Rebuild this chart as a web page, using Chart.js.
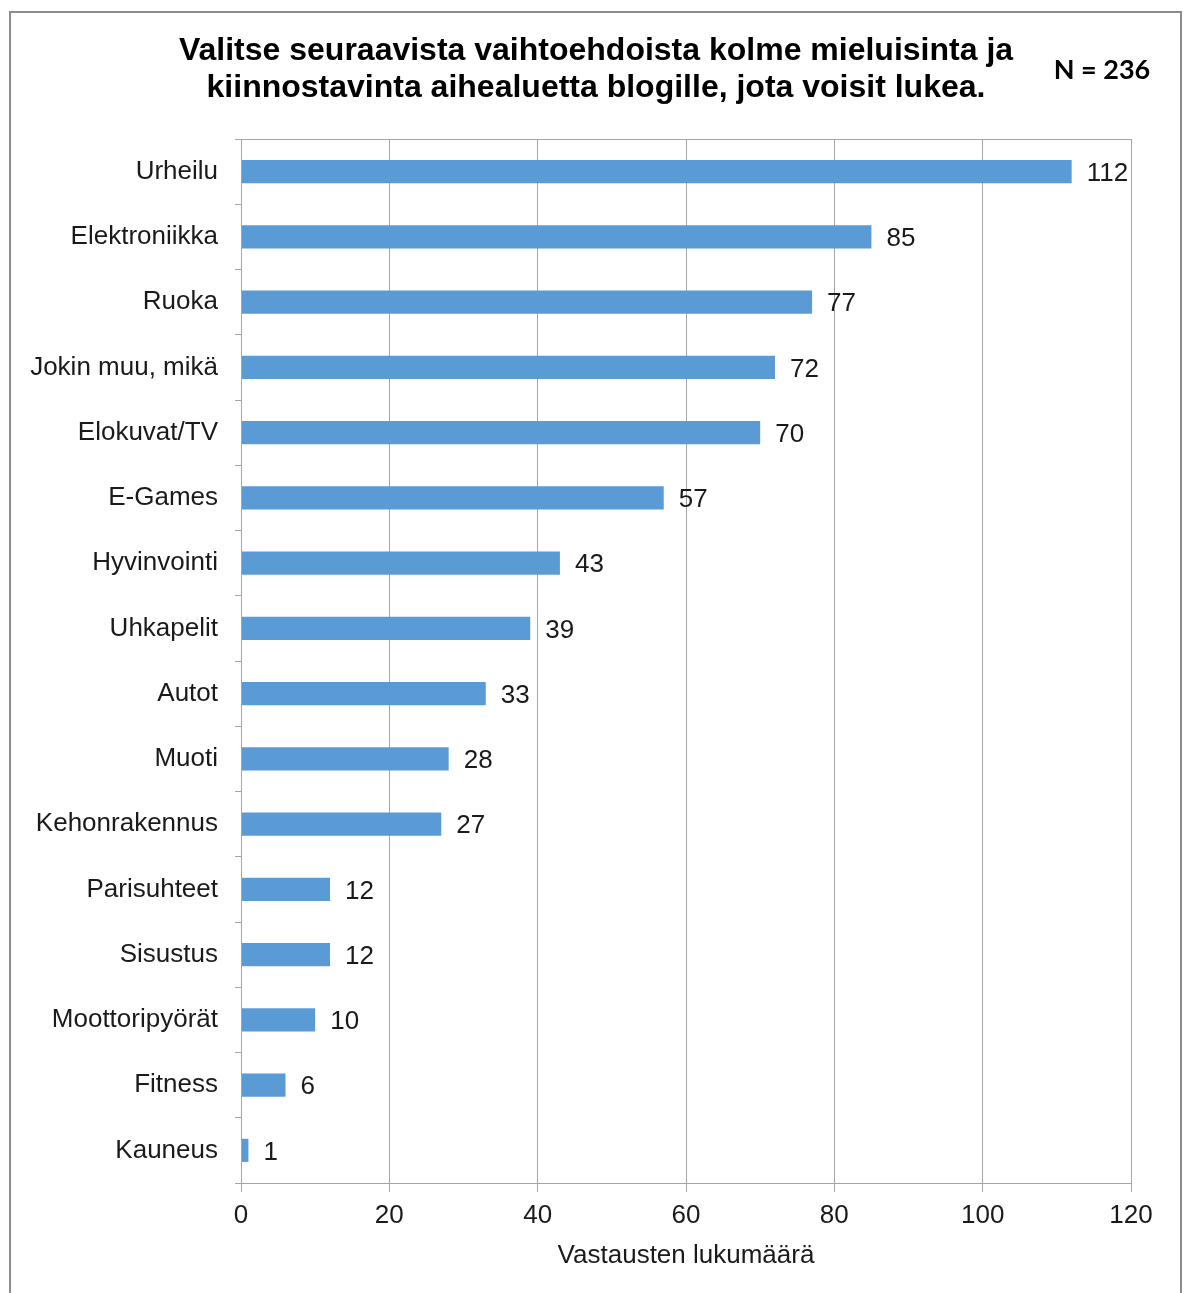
<!DOCTYPE html>
<html>
<head>
<meta charset="utf-8">
<script src="https://cdn.jsdelivr.net/npm/chart.js@4.4.1/dist/chart.umd.min.js"></script>
<style>
  html, body { margin: 0; padding: 0; background: #fff; }
  #wrap { width: 1186px; height: 1293px; }
</style>
</head>
<body>
<div id="wrap"><canvas id="chart" width="1186" height="1293"></canvas></div>
<script>
const categories = ['Urheilu', 'Elektroniikka', 'Ruoka', 'Jokin muu, mikä', 'Elokuvat/TV', 'E-Games',
    'Hyvinvointi', 'Uhkapelit', 'Autot', 'Muoti', 'Kehonrakennus', 'Parisuhteet', 'Sisustus',
    'Moottoripyörät', 'Fitness', 'Kauneus'];
const counts = [112, 85, 77, 72, 70, 57, 43, 39, 33, 28, 27, 12, 12, 10, 6, 1];
const xTicks = [0, 20, 40, 60, 80, 100, 120];
const titleLines = ['Valitse seuraavista vaihtoehdoista kolme mieluisinta ja',
    'kiinnostavinta aihealuetta blogille, jota voisit lukea.'];
const nText = 'N = 236';
const xTitle = 'Vastausten lukumäärä';

const FONT = '"Liberation Sans", Arial, sans-serif';

// ── Frame, title, plot border and value labels ──
const decor = {
    id: 'decor',
    afterDraw(chart) {
        const c = chart.ctx, a = chart.chartArea;
        c.save();
        // outer frame
        c.strokeStyle = '#8c8c8c'; c.lineWidth = 2;
        c.strokeRect(10, 12, 1171, 1300);
        // plot border
        c.strokeStyle = '#a6a6a6'; c.lineWidth = 1;
        c.strokeRect(a.left + 0.5, a.top + 0.5, a.right - a.left, a.bottom - a.top);
        // title
        c.fillStyle = '#000';
        c.font = 'bold 32px ' + FONT;
        c.textAlign = 'center'; c.textBaseline = 'middle';
        c.fillText(titleLines[0], 596, 51);
        c.fillText(titleLines[1], 596, 88);
        c.font = 'bold 27px Lato, "Noto Sans", sans-serif';
        c.fillText(nText, 1102, 70);
        // values
        const meta = chart.getDatasetMeta(0);
        c.font = '26px ' + FONT;
        c.fillStyle = '#1a1a1a';
        c.textAlign = 'left';
        meta.data.forEach((bar, i) => {
            c.fillText(String(counts[i]), bar.x + 15, bar.y + 2);
        });
        c.restore();
    }
};

new Chart(document.getElementById('chart'), {
    type: 'bar',
    data: {
        labels: categories,
        datasets: [{
            data: counts,
            backgroundColor: '#5b9bd5',
            borderWidth: 0,
            barPercentage: 0.355,
            categoryPercentage: 1,
        }],
    },
    options: {
        indexAxis: 'y',
        responsive: false,
        animation: false,
        layout: { padding: { top: 139, right: 55, left: 0, bottom: 0 } },
        plugins: { legend: { display: false }, tooltip: { enabled: false } },
        scales: {
            x: {
                min: 0, max: 120,
                afterBuildTicks: s => { s.ticks = xTicks.map(v => ({ value: v })); },
                afterFit: s => { s.height = 110; },
                grid: { color: '#a6a6a6', tickLength: 9, drawTicks: true },
                border: { color: '#a6a6a6' },
                ticks: { color: '#1a1a1a', font: { family: FONT, size: 26 }, padding: 8 },
                title: {
                    display: true, text: xTitle, color: '#1a1a1a',
                    font: { family: FONT, size: 26 }, padding: { top: 0, bottom: 22 },
                },
            },
            y: {
                afterFit: s => { s.width = 241; },
                grid: { drawOnChartArea: false, color: '#a6a6a6', tickLength: 6, offset: true },
                border: { color: '#a6a6a6' },
                ticks: { color: '#1a1a1a', font: { family: FONT, size: 26 }, padding: 17 },
            },
        },
    },
    plugins: [decor],
});
</script>
</body>
</html>
